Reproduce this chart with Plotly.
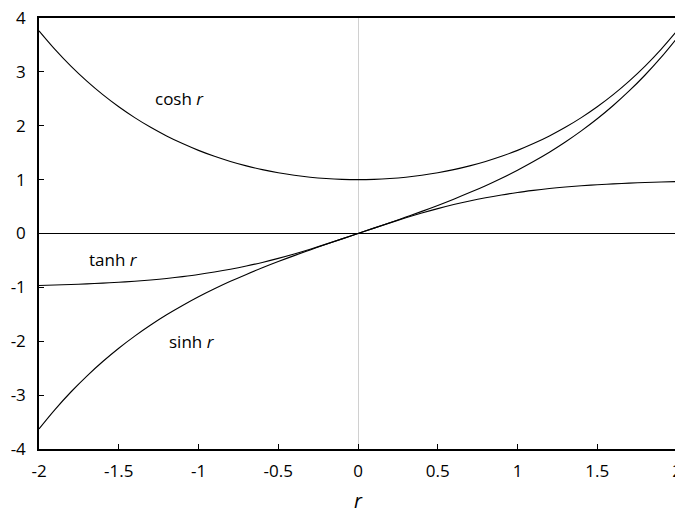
import plotly.graph_objects as go

r_vals = [-2.0, -1.9, -1.8, -1.7, -1.6, -1.5, -1.4, -1.3, -1.2, -1.1, -1.0,
          -0.9, -0.8, -0.7, -0.6, -0.5, -0.4, -0.3, -0.2, -0.1, 0.0,
          0.1, 0.2, 0.3, 0.4, 0.5, 0.6, 0.7, 0.8, 0.9, 1.0,
          1.1, 1.2, 1.3, 1.4, 1.5, 1.6, 1.7, 1.8, 1.9, 2.0]

cosh_vals = [3.762, 3.418, 3.107, 2.828, 2.577, 2.352, 2.151, 1.971, 1.811, 1.669, 1.543,
             1.433, 1.337, 1.255, 1.185, 1.128, 1.081, 1.045, 1.020, 1.005, 1.000,
             1.005, 1.020, 1.045, 1.081, 1.128, 1.185, 1.255, 1.337, 1.433, 1.543,
             1.669, 1.811, 1.971, 2.151, 2.352, 2.577, 2.828, 3.107, 3.418, 3.762]

sinh_vals = [-3.627, -3.268, -2.942, -2.646, -2.376, -2.129, -1.904, -1.698, -1.509, -1.336, -1.175,
             -1.027, -0.888, -0.759, -0.637, -0.521, -0.411, -0.305, -0.201, -0.100, 0.000,
             0.100, 0.201, 0.305, 0.411, 0.521, 0.637, 0.759, 0.888, 1.027, 1.175,
             1.336, 1.509, 1.698, 1.904, 2.129, 2.376, 2.646, 2.942, 3.268, 3.627]

tanh_vals = [-0.964, -0.956, -0.947, -0.935, -0.922, -0.905, -0.885, -0.862, -0.834, -0.800, -0.762,
             -0.716, -0.664, -0.604, -0.537, -0.462, -0.380, -0.291, -0.197, -0.100, 0.000,
             0.100, 0.197, 0.291, 0.380, 0.462, 0.537, 0.604, 0.664, 0.716, 0.762,
             0.800, 0.834, 0.862, 0.885, 0.905, 0.922, 0.935, 0.947, 0.956, 0.964]

x_ticks = [-2, -1.5, -1, -0.5, 0, 0.5, 1, 1.5, 2]
y_ticks = [-4, -3, -2, -1, 0, 1, 2, 3, 4]

labels = ["cosh <i>r</i>", "tanh <i>r</i>", "sinh <i>r</i>"]
label_x = [-1.12, -1.53, -1.04]
label_y = [2.50, -0.49, -2.0]

FONT = "Open Sans"

fig = go.Figure()
for ys in (cosh_vals, sinh_vals, tanh_vals):
    fig.add_trace(go.Scatter(x=r_vals, y=ys, mode="lines",
                             line=dict(color="black", width=1.1, shape="spline"),
                             showlegend=False, hoverinfo="skip"))

for t, lx, ly in zip(labels, label_x, label_y):
    fig.add_annotation(x=lx, y=ly, text=t, showarrow=False,
                       font=dict(family=FONT, size=17, color="black"))

fig.update_layout(
    width=675, height=506,
    margin=dict(l=31, r=6, t=10, b=65),
    paper_bgcolor="white", plot_bgcolor="white",
    font=dict(family=FONT, size=17, color="black"),
    xaxis=dict(range=[-2, 2], tickvals=x_ticks, ticktext=[str(v) for v in x_ticks],
               ticks="inside", ticklen=5, tickcolor="black", ticklabelstandoff=6,
               ticklabeloverflow="allow",
               showline=True, linecolor="black", linewidth=1.5, mirror=True,
               showgrid=False, zeroline=True, zerolinecolor="#d0d0d0", zerolinewidth=1,
               automargin=False,
               title=dict(text="<i>r</i>", standoff=18)),
    yaxis=dict(range=[-4, 4], tickvals=y_ticks, ticktext=[str(v) for v in y_ticks],
               ticks="inside", ticklen=5, tickcolor="black", ticklabelstandoff=8,
               ticklabeloverflow="allow",
               showline=True, linecolor="black", linewidth=1.5, mirror=True,
               showgrid=False, zeroline=True, zerolinecolor="black", zerolinewidth=0.8,
               automargin=False),
)

fig.write_html("out.html")
